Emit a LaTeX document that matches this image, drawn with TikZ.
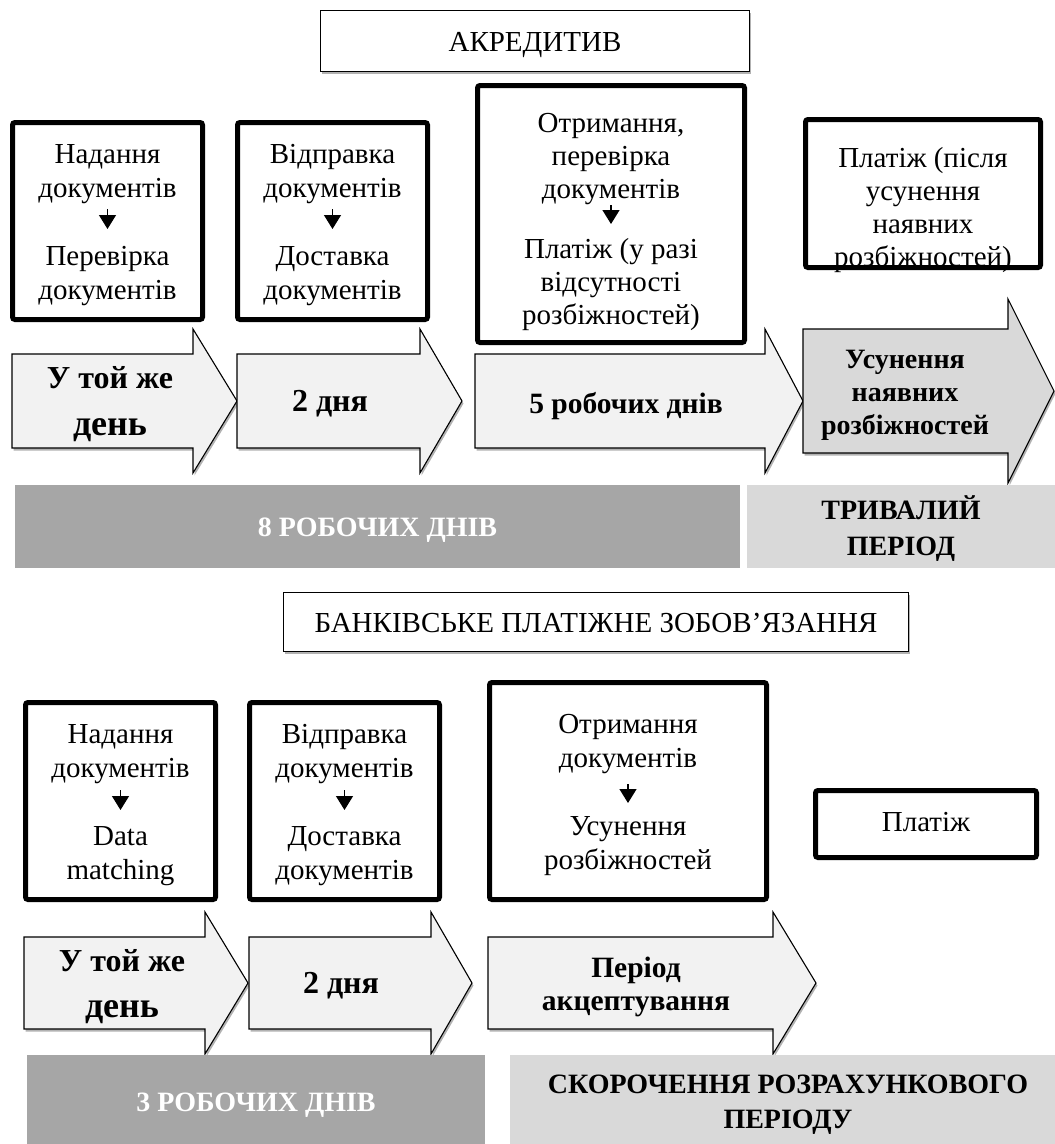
\documentclass[tikz,border=0pt]{standalone}
\usepackage{fontspec}
\setmainfont{Liberation Serif}
\usetikzlibrary{arrows.meta,shadows}

\definecolor{arrowfill}{HTML}{F2F2F2}
\definecolor{arrowdark}{HTML}{D9D9D9}
\definecolor{bardark}{HTML}{A6A6A6}
\definecolor{barlight}{HTML}{D9D9D9}

% block arrow: #1 extra style, #2 left x, #3 head base x, #4 tip x,
% #5 centre y, #6 half body height, #7 half head height
\newcommand\blockarr[7]{%
  \draw[blockarrow,#1] ({#2},{#5-#6}) -- ({#3},{#5-#6}) -- ({#3},{#5-#7})
    -- ({#4},{#5}) -- ({#3},{#5+#7}) -- ({#3},{#5+#6}) -- ({#2},{#5+#6}) -- cycle;}

\begin{document}
\begin{tikzpicture}[x=1pt,y=-1pt,
  frame/.style={draw, line width=5pt, rounded corners=2.5pt, inner sep=0pt},
  titlebox/.style={draw, line width=1.3pt, fill=white, inner sep=0pt,
    drop shadow={shadow xshift=1.5pt, shadow yshift=-2.5pt, opacity=0.3, fill=black}},
  blockarrow/.style={draw, line width=1.1pt, fill=arrowfill, line join=miter,
    drop shadow={shadow xshift=1.5pt, shadow yshift=-2.5pt, opacity=0.3, fill=black}},
  bar/.style={inner sep=0pt, anchor=north west},
  txt/.style={font=\fontsize{29}{34}\selectfont, inner sep=0pt, anchor=base},
  btxt/.style={font=\bfseries\fontsize{28}{34}\selectfont, inner sep=0pt, anchor=base},
  mtxt/.style={font=\bfseries\fontsize{29.5}{34}\selectfont, inner sep=0pt, anchor=base},
  ltxt/.style={font=\bfseries\fontsize{32}{36}\selectfont, inner sep=0pt, anchor=base},
  bigtxt/.style={font=\bfseries\fontsize{36}{40}\selectfont, inner sep=0pt, anchor=base},
  flowtip/.style={-{Triangle[width=17pt,length=14pt]}, line width=1.3pt},
]
\useasboundingbox (0,0) rectangle (1055,1144);

% ---------------- letter of credit ----------------
\node[titlebox, minimum width=428.7pt, minimum height=60.7pt] (t1) at (535,41) {};
\node[txt] (t1t) at (535,51) {АКРЕДИТИВ};

% step boxes
\foreach \t [count=\i from 0] in {Надання,документів}
  \node[txt] (r1a\i) at (107.5,{163+34*\i}) {\t};
\foreach \t [count=\i from 0] in {Перевірка,документів}
  \node[txt] (r1b\i) at (107.5,{265+34*\i}) {\t};
\coordinate (r1s) at (107.5,209); \coordinate (r1e) at (107.5,229);
\draw[flowtip] (r1s) -- (r1e);
\node[frame, minimum width=190pt, minimum height=197pt] (box1) at (107.5,221) {};

\foreach \t [count=\i from 0] in {Відправка,документів}
  \node[txt] (r2a\i) at (332.5,{163+34*\i}) {\t};
\foreach \t [count=\i from 0] in {Доставка,документів}
  \node[txt] (r2b\i) at (332.5,{265+34*\i}) {\t};
\coordinate (r2s) at (332.5,209); \coordinate (r2e) at (332.5,229);
\draw[flowtip] (r2s) -- (r2e);
\node[frame, minimum width=190pt, minimum height=197pt] (box2) at (332.5,221) {};

\foreach \t [count=\i from 0] in {{Отримання,},перевірка,документів}
  \node[txt] (r3a\i) at (611,{132+33*\i}) {\t};
\foreach \t [count=\i from 0] in {Платіж (у разі,відсутності,розбіжностей)}
  \node[txt] (r3b\i) at (611,{258+33.3*\i}) {\t};
\coordinate (r3s) at (611,205); \coordinate (r3e) at (611,224);
\draw[flowtip] (r3s) -- (r3e);
\node[frame, minimum width=267pt, minimum height=257pt] (box3) at (611,214) {};

\foreach \t [count=\i from 0] in {Платіж (після,усунення,наявних,розбіжностей)}
  \node[txt] (r4\i) at (923,{167+33*\i}) {\t};
\node[frame, minimum width=235pt, minimum height=148pt] (box4) at (923,193.5) {};

% time arrows
\blockarr{}{12}{193}{237}{401}{47}{72}
\blockarr{}{237}{420}{462}{401}{47}{72}
\blockarr{}{475}{765}{803}{401}{47}{72}
\blockarr{fill=arrowdark}{803}{1008}{1054}{391}{62}{92}

\node[ltxt] (a1t0) at (110,388) {У той же};
\node[bigtxt] (a1t1) at (110,435) {день};
\node[ltxt] (a2t) at (330,411) {2 дня};
\node[mtxt] (a3t) at (626,413) {5 робочих днів};
\foreach \t [count=\i from 0] in {Усунення,наявних,розбіжностей}
  \node[btxt] (a4t\i) at (905,{368+33*\i}) {\t};

% duration bars
\node[bar, fill=bardark, minimum width=725pt, minimum height=83pt] (bar1) at (15,485) {};
\node[btxt, white] (bar1t) at (377.5,536) {8 РОБОЧИХ ДНІВ};
\node[bar, fill=barlight, minimum width=308pt, minimum height=83pt] (bar2) at (747,485) {};
\node[btxt] (bar2t0) at (901,519) {ТРИВАЛИЙ};
\node[btxt] (bar2t1) at (901,555) {ПЕРІОД};

% ---------------- bank payment obligation ----------------
\node[titlebox, minimum width=624.7pt, minimum height=58.7pt] (t2) at (596,622) {};
\node[txt] (t2t) at (596,632) {БАНКІВСЬКЕ ПЛАТІЖНЕ ЗОБОВ’ЯЗАННЯ};

\foreach \t [count=\i from 0] in {Надання,документів}
  \node[txt] (s1a\i) at (120.5,{743+34*\i}) {\t};
\foreach \t [count=\i from 0] in {Data,matching}
  \node[txt] (s1b\i) at (120.5,{845+34*\i}) {\t};
\coordinate (s1s) at (120.5,790); \coordinate (s1e) at (120.5,810);
\draw[flowtip] (s1s) -- (s1e);
\node[frame, minimum width=190pt, minimum height=197pt] (sbox1) at (120.5,801) {};

\foreach \t [count=\i from 0] in {Відправка,документів}
  \node[txt] (s2a\i) at (344.5,{743+34*\i}) {\t};
\foreach \t [count=\i from 0] in {Доставка,документів}
  \node[txt] (s2b\i) at (344.5,{845+34*\i}) {\t};
\coordinate (s2s) at (344.5,790); \coordinate (s2e) at (344.5,810);
\draw[flowtip] (s2s) -- (s2e);
\node[frame, minimum width=190pt, minimum height=197pt] (sbox2) at (344.5,801) {};

\foreach \t [count=\i from 0] in {Отримання,документів}
  \node[txt] (s3a\i) at (628,{733+34*\i}) {\t};
\foreach \t [count=\i from 0] in {Усунення,розбіжностей}
  \node[txt] (s3b\i) at (628,{835+34*\i}) {\t};
\coordinate (s3s) at (628,784); \coordinate (s3e) at (628,803);
\draw[flowtip] (s3s) -- (s3e);
\node[frame, minimum width=277pt, minimum height=217pt] (sbox3) at (628,791) {};

\node[txt] (s4t) at (926,831) {Платіж};
\node[frame, minimum width=221pt, minimum height=67pt] (sbox4) at (926,824) {};

\blockarr{}{24}{205}{248}{983}{46}{71}
\blockarr{}{249}{431}{472}{983}{46}{71}
\blockarr{}{488}{773}{816}{983}{46}{71}

\node[ltxt] (b1t0) at (122,971) {У той же};
\node[bigtxt] (b1t1) at (122,1017) {день};
\node[ltxt] (b2t) at (341,993) {2 дня};
\node[mtxt] (b3t0) at (636,977) {Період};
\node[mtxt] (b3t1) at (636,1010) {акцептування};

\node[bar, fill=bardark, minimum width=458pt, minimum height=89pt] (bar3) at (27,1055) {};
\node[btxt, white] (bar3t) at (256,1111) {3 РОБОЧИХ ДНІВ};
\node[bar, fill=barlight, minimum width=545pt, minimum height=89pt] (bar4) at (510,1055) {};
\node[btxt] (bar4t0) at (788,1093) {СКОРОЧЕННЯ РОЗРАХУНКОВОГО};
\node[btxt] (bar4t1) at (788,1128) {ПЕРІОДУ};
\end{tikzpicture}
\end{document}
